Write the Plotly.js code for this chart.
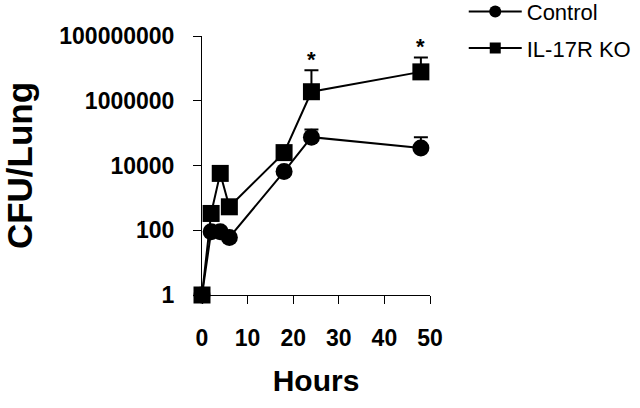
<!DOCTYPE html>
<html>
<head>
<meta charset="utf-8">
<script src="https://cdn.plot.ly/plotly-3.0.1.min.js"></script>
<style>html,body{margin:0;padding:0;background:#fff;}#chart{width:640px;height:408px;}</style>
</head>
<body>
<div id="chart"></div>
<script>
const hours = [0, 2, 4, 6, 18, 24, 48];
const controlCFU = [1, 90, 90, 60, 6500, 75000, 35000];
const controlErrUp = [0, 0, 0, 0, 0, 55000, 40000];
const koCFU = [1, 330, 5700, 530, 25000, 1900000, 7800000];
const koErrUp = [0, 0, 0, 0, 0, 6900000, 14000000];
const sigHours = [24, 48];
const sigTops = [1900000 + 6900000, 7800000 + 14000000];
const yTickVals = [1, 100, 10000, 1000000, 100000000];
const yTickText = ['1', '100', '10000', '1000000', '100000000'];
const xTickVals = [0, 10, 20, 30, 40, 50];

const traces = [
  {x: hours, y: controlCFU, type: 'scatter', mode: 'lines+markers', name: 'Control', showlegend: false,
   line: {color: '#000', width: 2}, marker: {symbol: 'circle', size: 17, color: '#000'},
   error_y: {type: 'data', symmetric: false, array: controlErrUp, arrayminus: controlErrUp.map(() => 0), color: '#000', thickness: 2, width: 7},
   cliponaxis: false},
  {x: hours, y: koCFU, type: 'scatter', mode: 'lines+markers', name: 'IL-17R KO', showlegend: false,
   line: {color: '#000', width: 2}, marker: {symbol: 'square', size: 17, color: '#000'},
   error_y: {type: 'data', symmetric: false, array: koErrUp, arrayminus: koErrUp.map(() => 0), color: '#000', thickness: 2, width: 7},
   cliponaxis: false},
  {x: [null], y: [null], type: 'scatter', mode: 'lines+markers', name: 'Control', legendgroup: 'a',
   line: {color: '#000', width: 2}, marker: {symbol: 'circle', size: 12, color: '#000'}},
  {x: [null], y: [null], type: 'scatter', mode: 'lines+markers', name: 'IL-17R KO', legendgroup: 'b',
   line: {color: '#000', width: 2}, marker: {symbol: 'square', size: 11, color: '#000'}}
];

const annotations = sigHours.map((h, i) => ({
  x: h, y: Math.log10(sigTops[i]), xref: 'x', yref: 'y', text: '<b>*</b>', showarrow: false,
  yanchor: 'bottom', yshift: -4, font: {family: 'Arial, Liberation Sans, sans-serif', size: 22, color: '#000'}
}));

const layout = {
  width: 640, height: 408,
  margin: {l: 202, r: 210, t: 36, b: 113, autoexpand: false},
  paper_bgcolor: '#fff', plot_bgcolor: '#fff',
  font: {family: 'Arial, Liberation Sans, sans-serif', color: '#000'},
  xaxis: {
    range: [0, 50], tickvals: xTickVals, showgrid: false, zeroline: false,
    showline: true, linecolor: '#000', linewidth: 1, ticks: 'outside', ticklen: 8, tickcolor: '#000',
    tickfont: {size: 23, weight: 'bold'}, ticklabelstandoff: 14,
    title: {text: '<b>Hours</b>', font: {size: 30}, standoff: 20}
  },
  yaxis: {
    type: 'log', range: [0, 8], tickvals: yTickVals, ticktext: yTickText.map(t => '<b>' + t + '</b>'),
    showgrid: false, zeroline: false,
    showline: true, linecolor: '#000', linewidth: 1, ticks: 'outside', ticklen: 8, tickcolor: '#000',
    tickfont: {size: 23}, ticklabelstandoff: 14,
    title: {text: '<b>CFU/Lung</b>', font: {size: 35}, standoff: 22}
  },
  legend: {x: 1.148, y: 1.175, xanchor: 'left', yanchor: 'top', font: {size: 22}, itemwidth: 53,
           tracegroupgap: 5, bgcolor: 'rgba(0,0,0,0)'},
  showlegend: true,
  annotations: annotations
};

Plotly.newPlot('chart', traces, layout, {displayModeBar: false, staticPlot: true});
</script>
</body>
</html>
